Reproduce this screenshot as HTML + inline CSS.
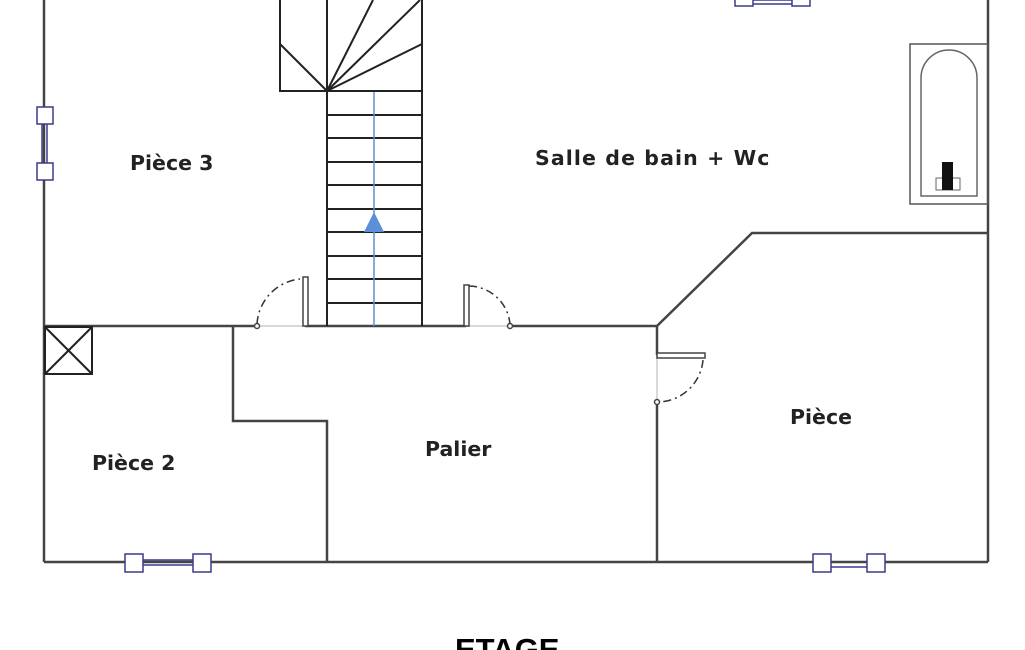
<!DOCTYPE html>
<html><head><meta charset="utf-8"><style>
html,body{margin:0;padding:0;background:#fff;width:1025px;height:650px;overflow:hidden}
svg{display:block}
text{font-family:"DejaVu Sans","Liberation Sans",sans-serif;font-weight:bold;fill:#222}
</style></head><body>
<svg width="1025" height="650" viewBox="0 0 1025 650" xmlns="http://www.w3.org/2000/svg">
<g stroke="#444" stroke-width="2.5" fill="none">
<line x1="44" y1="0" x2="44" y2="562"/>
<line x1="988" y1="0" x2="988" y2="562"/>
<line x1="44" y1="562" x2="988" y2="562"/>
<line x1="44" y1="326" x2="257" y2="326"/>
<line x1="305" y1="326" x2="466" y2="326"/>
<line x1="510" y1="326" x2="657" y2="326"/>
<polyline points="233,326 233,421 327,421 327,562"/>
<line x1="657" y1="326" x2="657" y2="355"/>
<line x1="657" y1="402" x2="657" y2="562"/>
<polyline points="657,326 752,233 988,233"/>
</g>
<g stroke="#ccc" stroke-width="1.5"><line x1="257" y1="326" x2="305" y2="326"/><line x1="466" y1="326" x2="510" y2="326"/><line x1="657" y1="355" x2="657" y2="402"/></g>
<g stroke="#222" stroke-width="2" fill="none">
<rect x="280" y="-2" width="142" height="93"/>
<line x1="327" y1="0" x2="327" y2="326"/>
<line x1="422" y1="91" x2="422" y2="326"/>
<line x1="327" y1="91" x2="280" y2="44"/>
<line x1="327" y1="91" x2="373" y2="0"/>
<line x1="327" y1="91" x2="420" y2="0"/>
<line x1="327" y1="91" x2="422" y2="44"/>
<line x1="327" y1="115" x2="422" y2="115"/>
<line x1="327" y1="138" x2="422" y2="138"/>
<line x1="327" y1="162" x2="422" y2="162"/>
<line x1="327" y1="185" x2="422" y2="185"/>
<line x1="327" y1="209" x2="422" y2="209"/>
<line x1="327" y1="232" x2="422" y2="232"/>
<line x1="327" y1="256" x2="422" y2="256"/>
<line x1="327" y1="279" x2="422" y2="279"/>
<line x1="327" y1="303" x2="422" y2="303"/>
</g>
<line x1="374" y1="92" x2="374" y2="326" stroke="#5b8fd8" stroke-width="1.5"/>
<polygon points="374,212 364,232 384,232" fill="#5b8fd8"/>
<g stroke="#444" stroke-width="1.5" fill="#fff">
<rect x="303" y="277" width="5" height="49"/>
<rect x="464" y="285" width="5" height="41"/>
<rect x="657" y="353" width="48" height="5"/>
<circle cx="257" cy="326" r="2.5"/><circle cx="510" cy="326" r="2.5"/><circle cx="657" cy="402" r="2.5"/>
</g>
<g stroke="#333" stroke-width="1.5" fill="none" stroke-dasharray="8,4,2,4">
<path d="M257,324 A48,48 0 0 1 300,279"/>
<path d="M469,286 A42,42 0 0 1 510,324"/>
<path d="M703,360 A46,46 0 0 1 659,402"/>
</g>
<g stroke="#222" stroke-width="2" fill="none"><rect x="45" y="327" width="47" height="47"/><line x1="45" y1="327" x2="92" y2="374"/><line x1="92" y1="327" x2="45" y2="374"/></g>
<rect x="910" y="44" width="78" height="160" fill="none" stroke="#555" stroke-width="1.5"/>
<path d="M921,196 L921,78 A28,28 0 0 1 977,78 L977,196 Z" fill="none" stroke="#666" stroke-width="1.5"/>
<rect x="936" y="178" width="24" height="12" fill="none" stroke="#666" stroke-width="1"/>
<rect x="942" y="162" width="11" height="28" fill="#111"/>
<g stroke="#3a3a8a" stroke-width="1.5" fill="#fff">
<line x1="42" y1="123" x2="42" y2="171" stroke-width="1.5"/><line x1="47" y1="123" x2="47" y2="171" stroke-width="1.5"/>
<rect x="37" y="107" width="16" height="17"/><rect x="37" y="163" width="16" height="17"/>
<line x1="141" y1="560" x2="202" y2="560"/><line x1="141" y1="565" x2="202" y2="565"/>
<rect x="125" y="554" width="18" height="18"/><rect x="193" y="554" width="18" height="18"/>
<line x1="828" y1="567" x2="870" y2="567"/>
<rect x="813" y="554" width="18" height="18"/><rect x="867" y="554" width="18" height="18"/>
<line x1="752" y1="0" x2="800" y2="0"/><line x1="752" y1="4" x2="800" y2="4"/>
<rect x="735" y="-10" width="18" height="16"/><rect x="792" y="-10" width="18" height="16"/>
</g>
<text x="130" y="170" font-size="20.5">Pièce 3</text>
<text x="535" y="165" font-size="20.5" letter-spacing="1.1">Salle de bain + Wc</text>
<text x="425" y="456" font-size="20.5">Palier</text>
<text x="790" y="424" font-size="20.5">Pièce</text>
<text x="92" y="470" font-size="20.5">Pièce 2</text>
<text x="455" y="660" font-size="31" style="font-family:'Liberation Sans',sans-serif;font-weight:900;fill:#000">ETAGE</text>
</svg>
</body></html>
